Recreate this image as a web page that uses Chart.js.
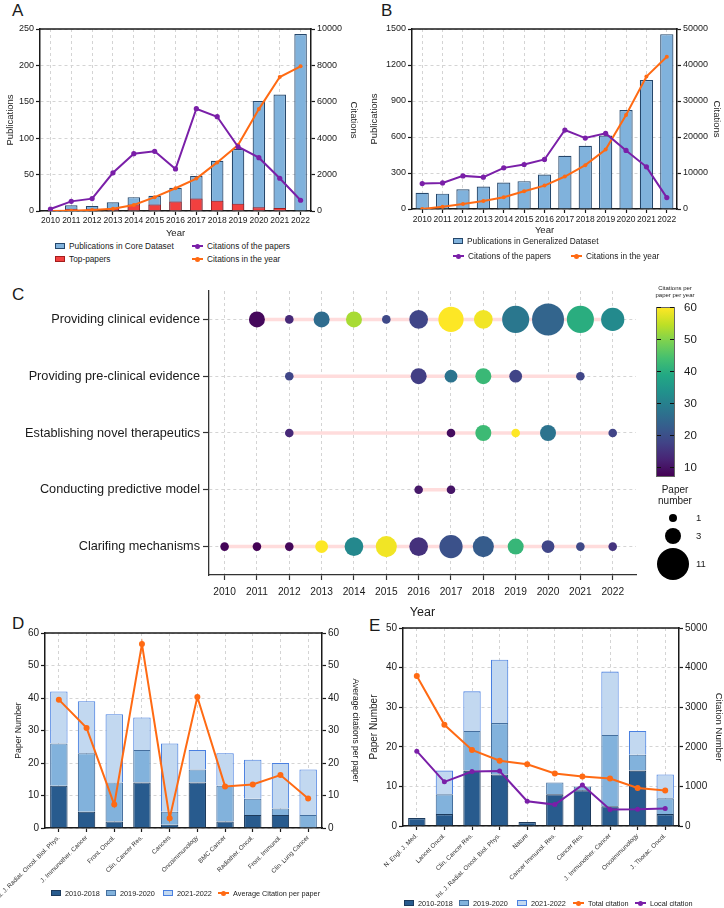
<!DOCTYPE html>
<html>
<head>
<meta charset="utf-8">
<title>Publications and citations</title>
<script src="https://cdn.jsdelivr.net/npm/chart.js@4.4.1/dist/chart.umd.min.js"></script>
<style>
  body { margin: 0; background: #fff; font-family: "Liberation Sans", Arial, sans-serif; color: #1a1a1a; }
  #fig { position: relative; width: 724px; height: 908px; overflow: hidden; }
  canvas { position: absolute; }
  .tag { position: absolute; font-size: 17px; line-height: 1; }
  .lg { position: absolute; display: flex; align-items: center; white-space: nowrap; height: 10px; }
  .f8 { font-size: 8.3px; }
  .f7 { font-size: 7.3px; }
  .bx { display: inline-block; box-sizing: border-box; width: 10px; height: 6px; border: 1px solid; margin-right: 4px; }
  .mk { display: inline-block; position: relative; width: 11px; height: 2px; margin-right: 4px; }
  .mk::after { content: ''; position: absolute; left: 3px; top: -1.5px; width: 5px; height: 5px; border-radius: 50%; background: inherit; }
  .abs { position: absolute; }
  #cbar { position: absolute; box-sizing: border-box; border: 1px solid #666; }
</style>
</head>
<body>
<div id="fig">
  <div class="tag" style="left:12px;top:2px">A</div>
  <div class="tag" style="left:381px;top:2px">B</div>
  <div class="tag" style="left:12px;top:286px">C</div>
  <div class="tag" style="left:12px;top:615px">D</div>
  <div class="tag" style="left:369px;top:617px">E</div>

  <canvas id="cA" width="362" height="240" style="left:0;top:0"></canvas>
  <canvas id="cB" width="362" height="237" style="left:362px;top:0"></canvas>
  <canvas id="cC" width="652" height="345" style="left:0;top:275px"></canvas>
  <canvas id="cD" width="362" height="308" style="left:0;top:600px"></canvas>
  <canvas id="cE" width="362" height="308" style="left:362px;top:600px"></canvas>

  <!-- legend A -->
  <div class="lg f8" style="left:55px;top:241px"><i class="bx" style="background:#80b2dc;border-color:#25476b"></i>Publications in Core Dataset</div>
  <div class="lg f8" style="left:55px;top:254px"><i class="bx" style="background:#f2403f;border-color:#a31d1d"></i>Top-papers</div>
  <div class="lg f8" style="left:192px;top:241px"><i class="mk" style="background:#7a1fa8"></i>Citations of the papers</div>
  <div class="lg f8" style="left:192px;top:254px"><i class="mk" style="background:#ff6a13"></i>Citations in the year</div>
  <!-- legend B -->
  <div class="lg f8" style="left:453px;top:236px"><i class="bx" style="background:#80b2dc;border-color:#25476b"></i>Publications in Generalized Dataset</div>
  <div class="lg f8" style="left:453px;top:251px"><i class="mk" style="background:#7a1fa8"></i>Citations of the papers</div>
  <div class="lg f8" style="left:571px;top:251px"><i class="mk" style="background:#ff6a13"></i>Citations in the year</div>

  <!-- colour bar + size legend of C -->
  <div class="abs" style="left:645px;top:285px;width:60px;text-align:center;font-size:6px;line-height:7px">Citations per<br>paper per year</div>
  <div id="cbar" style="left:656px;top:307px;width:19px;height:170px"></div>
  <div id="cbTicks"></div>
  <div class="abs" style="left:645px;top:484px;width:60px;text-align:center;font-size:10px;line-height:11px">Paper<br>number</div>
  <div id="sizeKey"></div>

  <!-- legend D -->
  <div class="lg f7" style="left:51px;top:888px"><i class="bx" style="background:#285b8e;border-color:#1c3a5c"></i>2010-2018</div>
  <div class="lg f7" style="left:106px;top:888px"><i class="bx" style="background:#82b2dc;border-color:#456f9e"></i>2019-2020</div>
  <div class="lg f7" style="left:163px;top:888px"><i class="bx" style="background:#c2d8f0;border-color:#4a80e0"></i>2021-2022</div>
  <div class="lg f7" style="left:218px;top:888px"><i class="mk" style="background:#ff6a13"></i>Average Citation per paper</div>
  <!-- legend E -->
  <div class="lg f7" style="left:404px;top:898px"><i class="bx" style="background:#285b8e;border-color:#1c3a5c"></i>2010-2018</div>
  <div class="lg f7" style="left:459px;top:898px"><i class="bx" style="background:#82b2dc;border-color:#456f9e"></i>2019-2020</div>
  <div class="lg f7" style="left:517px;top:898px"><i class="bx" style="background:#c2d8f0;border-color:#4a80e0"></i>2021-2022</div>
  <div class="lg f7" style="left:573px;top:898px"><i class="mk" style="background:#ff6a13"></i>Total citation</div>
  <div class="lg f7" style="left:635px;top:898px"><i class="mk" style="background:#7a1fa8"></i>Local citation</div>
</div>

<script>
// ---- A / B : yearly publications and citations ----
const years = [2010, 2011, 2012, 2013, 2014, 2015, 2016, 2017, 2018, 2019, 2020, 2021, 2022];
const corePubs      = [1, 8, 7, 12, 19, 21, 32, 48, 69, 85, 151, 160, 243];
const coreTopPapers = [0, 3, 3, 4, 9, 9, 13, 17, 14, 10, 5, 4, 0];
const coreCitPapers = [110, 530, 680, 2100, 3150, 3280, 2310, 5620, 5180, 3530, 2930, 1800, 590];
const coreCitYear   = [0, 20, 60, 130, 330, 760, 1250, 1780, 2670, 3620, 5600, 7360, 7950];
const genPubs       = [136, 128, 165, 187, 220, 232, 287, 443, 527, 613, 825, 1075, 1457];
const genCitPapers  = [7060, 7250, 9200, 8830, 11430, 12360, 13760, 21930, 19700, 21000, 16260, 11710, 3160];
const genCitYear    = [0, 650, 1400, 2230, 3250, 4930, 6500, 9020, 12180, 16540, 26100, 36800, 42290];

// ---- C : research themes per year ----
const themes = ['Providing clinical evidence', 'Providing pre-clinical evidence',
  'Establishing novel therapeutics', 'Conducting predictive model', 'Clarifing mechanisms'];
const themeYears = [
  [2011, 2012, 2013, 2014, 2015, 2016, 2017, 2018, 2019, 2020, 2021, 2022],
  [2012, 2016, 2017, 2018, 2019, 2021],
  [2012, 2017, 2018, 2019, 2020, 2022],
  [2016, 2017],
  [2010, 2011, 2012, 2013, 2014, 2015, 2016, 2017, 2018, 2019, 2020, 2021, 2022]
];
const themePapers = [
  [3, 1, 3, 3, 1, 4, 7, 4, 8, 11, 8, 6],
  [1, 3, 2, 3, 2, 1],
  [1, 1, 3, 1, 3, 1],
  [1, 1],
  [1, 1, 1, 2, 4, 5, 4, 6, 5, 3, 2, 1, 1]
];
const themeCites = [
  [8, 13, 25.5, 53, 18.6, 18, 60, 59, 28, 24, 40, 32],
  [18, 16.5, 27, 42.5, 17.5, 18],
  [13, 8.5, 43, 60, 27, 17.5],
  [10.5, 10],
  [7.5, 7, 7.8, 60, 31.5, 59, 14.3, 20, 22.3, 42, 18, 18.6, 14.9]
];
const cbTicks = [10, 20, 30, 40, 50, 60];
const sizeKeys = [1, 3, 11];

// ---- D : top journals (core dataset) ----
const dJournals = ['Int. J. Radiat. Oncol. Biol. Phys.', 'J. Immunother. Cancer', 'Front. Oncol.',
  'Clin. Cancer Res.', 'Cancers', 'Oncoimmunology', 'BMC Cancer', 'Radiother. Oncol.',
  'Front. Immunol.', 'Clin. Lung Cancer'];
const d2010 = [13, 5, 2, 14, 1, 14, 2, 4, 4, 0];
const d2019 = [13, 18, 12, 10, 4, 4, 11, 5, 2, 4];
const d2021 = [16, 16, 21, 10, 21, 6, 10, 12, 14, 14];
const dAvgCit = [39.5, 30.8, 7.2, 56.6, 3.0, 40.3, 12.8, 13.4, 16.3, 9.1];

// ---- E : most cited journals ----
const eJournals = ['N. Engl. J. Med.', 'Lancet Oncol.', 'Clin. Cancer Res.',
  'Int. J. Radiat. Oncol. Biol. Phys.', 'Nature', 'Cancer Immunol. Res.', 'Cancer Res.',
  'J. Immunother. Cancer', 'Oncoimmunology', 'J. Thorac. Oncol.'];
const e2010 = [2, 3, 14, 13, 1, 8, 9, 5, 14, 3];
const e2019 = [0, 5, 10, 13, 0, 3, 1, 18, 4, 4];
const e2021 = [0, 6, 10, 16, 0, 0, 0, 16, 6, 6];
const eTotalCit = [3790, 2555, 1920, 1650, 1560, 1325, 1250, 1200, 960, 895];
const eLocalCit = [1890, 1115, 1375, 1390, 625, 540, 1035, 415, 420, 445];

// ====================================================================
const INK = '#1a1a1a';
const GRID = '#d4d4d4';
const PURPLE = '#7a1fa8';
const ORANGE = '#ff6a13';
const BLUE = '#80b2dc', BLUE_B = '#25476b';
const RED = '#f2403f', RED_B = '#a31d1d';
const DARK = '#285b8e', DARK_B = '#1c3a5c';
const MID = '#82b2dc', MID_B = '#456f9e';
const LIGHT = '#c2d8f0', LIGHT_B = '#4a80e0';

Chart.defaults.font.family = '"Liberation Sans", Arial, sans-serif';
Chart.defaults.color = INK;
Chart.defaults.animation = false;
Chart.defaults.plugins.legend.display = false;
Chart.defaults.plugins.tooltip.enabled = false;
Chart.defaults.events = [];

// solid top edge of the plot frame
const frameTop = {
  id: 'frameTop',
  afterDraw(chart) {
    const { ctx, chartArea: a } = chart;
    ctx.save();
    ctx.strokeStyle = INK;
    ctx.lineWidth = 1.5;
    ctx.beginPath();
    ctx.moveTo(a.left - 0.75, a.top);
    ctx.lineTo(a.right + 0.75, a.top);
    ctx.stroke();
    ctx.restore();
  }
};

function yAxis(pos, min, max, step, title, o) {
  return {
    position: pos, min: min, max: max,
    stacked: !!o.stacked,
    grid: { drawOnChartArea: pos === 'left', color: GRID, tickColor: INK, tickLength: 4, tickWidth: 1.2 },
    border: { color: INK, width: 1.5, dash: [3, 3] },
    ticks: { stepSize: step, color: INK, padding: 2, font: { size: o.tick }, callback: v => String(v) },
    title: { display: true, text: title, color: INK, font: { size: o.title }, padding: o.titlePad },
    afterFit: s => { s.width = o.width; }
  };
}

function xAxis(o) {
  return {
    stacked: !!o.stacked,
    grid: { offset: false, color: GRID, tickColor: INK, tickLength: 4, tickWidth: 1.2 },
    border: { color: INK, width: 1.5, dash: [3, 3] },
    ticks: { color: o.color || INK, padding: o.pad, autoSkip: false, minRotation: o.rot, maxRotation: o.rot, font: { size: o.tick } },
    title: { display: !!o.title, text: o.title || '', color: INK, font: { size: 9.5 }, padding: { top: 0, bottom: 1 } },
    afterFit: s => { s.height = o.height; s.paddingLeft = 0; s.paddingRight = 0; }
  };
}

function lineSet(label, data, color, r, order) {
  return { type: 'line', label: label, data: data, yAxisID: 'y1', borderColor: color, backgroundColor: color,
    borderWidth: 2, pointRadius: r, pointBorderWidth: 0, tension: 0, order: order };
}

// ---------------- A ----------------
new Chart(document.getElementById('cA'), {
  type: 'bar',
  data: {
    labels: years,
    datasets: [
      lineSet('Citations of the papers', coreCitPapers, PURPLE, 2.6, 0),
      lineSet('Citations in the year', coreCitYear, ORANGE, 2, 1),
      { label: 'Top-papers', data: coreTopPapers, backgroundColor: RED, borderColor: RED_B, borderWidth: 1,
        grouped: false, barPercentage: 0.6, categoryPercentage: 1, order: 2 },
      { label: 'Publications in Core Dataset', data: corePubs, backgroundColor: BLUE, borderColor: BLUE_B, borderWidth: 1.2,
        grouped: false, barPercentage: 0.6, categoryPercentage: 1, order: 3 }
    ]
  },
  options: {
    responsive: false,
    layout: { padding: { top: 29, left: 0, right: 0, bottom: 0 } },
    scales: {
      x: xAxis({ tick: 8.5, pad: 1, rot: 0, height: 29, title: 'Year' }),
      y: yAxis('left', 0, 250, 50, 'Publications', { tick: 9, title: 9.5, titlePad: 4.5, width: 40 }),
      y1: yAxis('right', 0, 10000, 2000, 'Citations', { tick: 9, title: 9.5, titlePad: 3, width: 51 })
    }
  },
  plugins: [frameTop]
});

// ---------------- B ----------------
new Chart(document.getElementById('cB'), {
  type: 'bar',
  data: {
    labels: years,
    datasets: [
      lineSet('Citations of the papers', genCitPapers, PURPLE, 2.6, 0),
      lineSet('Citations in the year', genCitYear, ORANGE, 2, 1),
      { label: 'Publications in Generalized Dataset', data: genPubs, backgroundColor: BLUE, borderColor: BLUE_B, borderWidth: 1.2,
        barPercentage: 0.65, categoryPercentage: 1, order: 2 }
    ]
  },
  options: {
    responsive: false,
    layout: { padding: { top: 29, left: 0, right: 0, bottom: 0 } },
    scales: {
      x: xAxis({ tick: 8.5, pad: 2, rot: 0, height: 28, title: 'Year' }),
      y: yAxis('left', 0, 1500, 300, 'Publications', { tick: 9, title: 9.5, titlePad: 7, width: 50 }),
      y1: yAxis('right', 0, 50000, 10000, 'Citations', { tick: 9, title: 9.5, titlePad: 2, width: 47 })
    }
  },
  plugins: [frameTop]
});

// ---------------- C ----------------
const CMIN = 6.9, CMAX = 60;
const VIR = ['#440154', '#482475', '#414487', '#355f8d', '#2a788e', '#21918c',
  '#22a884', '#44bf70', '#7ad151', '#bddf26', '#fde725'];
function hex(c) { return [1, 3, 5].map(i => parseInt(c.substr(i, 2), 16)); }
function viridis(v) {
  const t = Math.max(0, Math.min(1, (v - CMIN) / (CMAX - CMIN))) * 10;
  const i = Math.min(9, Math.floor(t)), f = t - i;
  const a = hex(VIR[i]), b = hex(VIR[i + 1]);
  return 'rgb(' + a.map((x, k) => Math.round(x + (b[k] - x) * f)).join(',') + ')';
}
// bubble radius (px) from the paper number
function sizeOf(n) { return 5.05 * Math.sqrt(n) - 0.75; }

const cSets = [];
themes.forEach((t, i) => {
  const ys = themeYears[i];
  cSets.push({ type: 'line', data: [{ x: ys[0], y: t }, { x: ys[ys.length - 1], y: t }],
    borderColor: '#ffdcdc', borderWidth: 3.5, pointRadius: 0, order: 1 });
  cSets.push({ type: 'bubble',
    data: ys.map((x, j) => ({ x: x, y: t, r: sizeOf(themePapers[i][j]), c: themeCites[i][j] })),
    backgroundColor: ctx => (ctx.raw ? viridis(ctx.raw.c) : '#000'), borderWidth: 0, order: 0 });
});

new Chart(document.getElementById('cC'), {
  type: 'bubble',
  data: { datasets: cSets },
  options: {
    responsive: false,
    clip: false,
    layout: { padding: { top: 9, right: 5, left: 0, bottom: 0 } },
    scales: {
      x: {
        type: 'linear', min: 2009.518, max: 2022.72,
        grid: { color: GRID, tickColor: '#333', tickLength: 5, tickWidth: 1.2 },
        border: { color: '#333', width: 1.3, dash: [3, 3] },
        ticks: { stepSize: 1, includeBounds: false, padding: 6, color: INK, font: { size: 10.2 }, callback: v => String(v) },
        title: { display: true, text: 'Year', color: INK, font: { size: 12.5 }, padding: { top: 0, bottom: 0 } },
        afterFit: s => { s.height = 45; s.paddingLeft = 0; s.paddingRight = 0; }
      },
      y: {
        type: 'category', labels: themes, offset: true,
        grid: { offset: false, color: GRID, tickColor: '#333', tickLength: 6, tickWidth: 1.2 },
        border: { color: '#333', width: 1.3, dash: [3, 3] },
        ticks: { padding: 3, color: INK, font: { size: 12.7 } },
        afterFit: s => { s.width = 209; }
      }
    }
  }
});

// colour bar
(function () {
  const top = 307, h = 170, bottom = top + h;
  document.getElementById('cbar').style.background = 'linear-gradient(to top,' + VIR.join(',') + ')';
  let html = '';
  cbTicks.forEach(v => {
    const y = bottom - (v - CMIN) / (CMAX - CMIN) * h;
    html += '<div class="abs" style="left:657px;top:' + (y - 0.5) + 'px;width:4px;height:1px;background:#111"></div>';
    html += '<div class="abs" style="left:670px;top:' + (y - 0.5) + 'px;width:4px;height:1px;background:#111"></div>';
    html += '<div class="abs" style="left:684px;top:' + (y - 7) + 'px;font-size:11.5px;line-height:14px">' + v + '</div>';
  });
  document.getElementById('cbTicks').innerHTML = html;

  const centres = [518, 536, 564];
  let s = '';
  sizeKeys.forEach((n, i) => {
    const r = sizeOf(n);
    s += '<div class="abs" style="left:' + (673 - r) + 'px;top:' + (centres[i] - r) + 'px;width:' + (2 * r) +
      'px;height:' + (2 * r) + 'px;border-radius:50%;background:#000"></div>';
    s += '<div class="abs" style="left:696px;top:' + (centres[i] - 6) + 'px;font-size:9.5px;line-height:12px">' + n + '</div>';
  });
  document.getElementById('sizeKey').innerHTML = s;
})();

// ---------------- D ----------------
function stackSet(label, data, bg, bd) {
  return { label: label, data: data, backgroundColor: bg, borderColor: bd, borderWidth: 1.1,
    barPercentage: 0.63, categoryPercentage: 1, order: 5 };
}

new Chart(document.getElementById('cD'), {
  type: 'bar',
  data: {
    labels: dJournals,
    datasets: [
      lineSet('Average Citation per paper', dAvgCit, ORANGE, 3, 0),
      stackSet('2010-2018', d2010, DARK, DARK_B),
      stackSet('2019-2020', d2019, MID, MID_B),
      stackSet('2021-2022', d2021, LIGHT, LIGHT_B)
    ]
  },
  options: {
    responsive: false,
    layout: { padding: { top: 33, left: 0, right: 0, bottom: 0 } },
    scales: {
      x: xAxis({ stacked: true, tick: 6.3, pad: 2, rot: 45, height: 80, color: '#333' }),
      y: yAxis('left', 0, 60, 10, 'Paper Number', { stacked: true, tick: 10, title: 8.7, titlePad: 13, width: 45 }),
      y1: yAxis('right', 0, 60, 10, 'Average citations per paper', { tick: 10, title: 8.5, titlePad: 2, width: 40 })
    }
  },
  plugins: [frameTop]
});

// ---------------- E ----------------
new Chart(document.getElementById('cE'), {
  type: 'bar',
  data: {
    labels: eJournals,
    datasets: [
      lineSet('Local citation', eLocalCit, PURPLE, 2.5, 0),
      lineSet('Total citation', eTotalCit, ORANGE, 3, 1),
      stackSet('2010-2018', e2010, DARK, DARK_B),
      stackSet('2019-2020', e2019, MID, MID_B),
      stackSet('2021-2022', e2021, LIGHT, LIGHT_B)
    ]
  },
  options: {
    responsive: false,
    layout: { padding: { top: 28, left: 0, right: 0, bottom: 0 } },
    scales: {
      x: xAxis({ stacked: true, tick: 6.3, pad: 2, rot: 45, height: 82, color: '#333' }),
      y: yAxis('left', 0, 50, 10, 'Paper Number', { stacked: true, tick: 10, title: 10, titlePad: 6, width: 41 }),
      y1: yAxis('right', 0, 5000, 1000, 'Citation Number', { tick: 10, title: 9.5, titlePad: 0, width: 45 })
    }
  },
  plugins: [frameTop]
});
</script>
</body>
</html>
